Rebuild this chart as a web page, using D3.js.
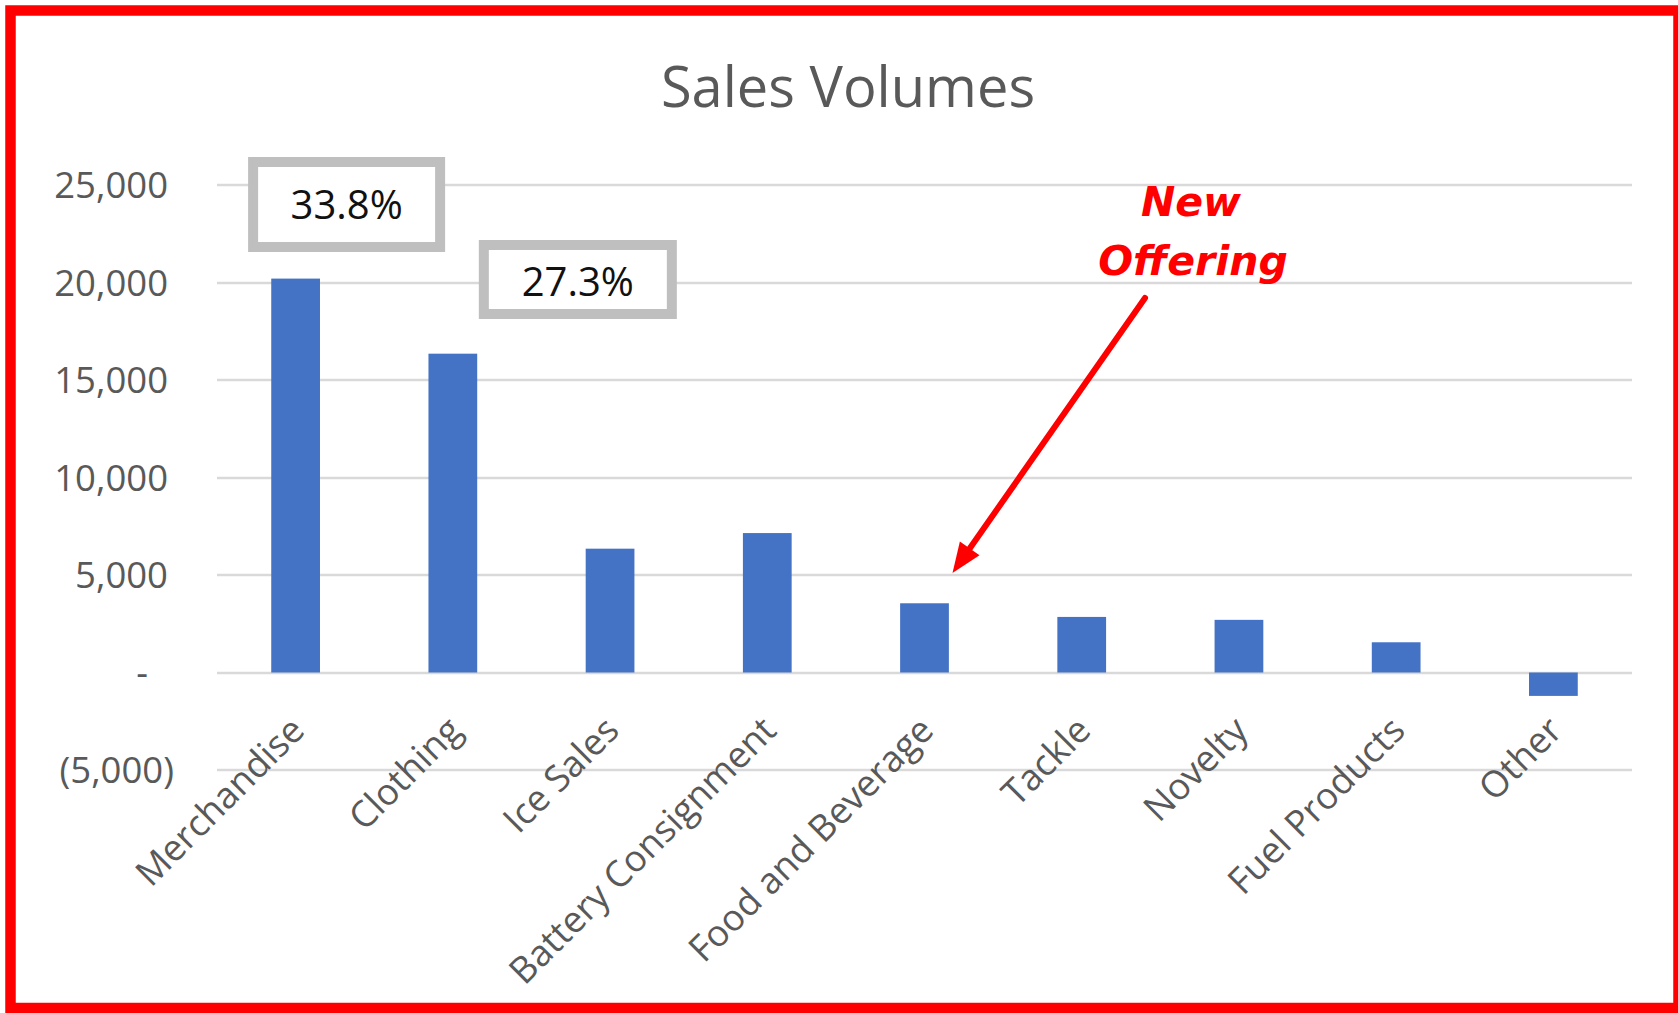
<!DOCTYPE html>
<html>
<head>
<meta charset="utf-8">
<script src="https://cdn.jsdelivr.net/npm/d3@7"></script>
<style>
  html, body { margin: 0; padding: 0; background: #fff; }
  svg { display: block; }
</style>
</head>
<body>
<div id="chart"></div>
<script>
// chart data
const categories = ["Merchandise", "Clothing", "Ice Sales", "Battery Consignment",
  "Food and Beverage", "Tackle", "Novelty", "Fuel Products", "Other"];
const salesValues = [20200, 16350, 6350, 7150, 3550, 2850, 2700, 1550, -1200];
const yTicks = [-5000, 0, 5000, 10000, 15000, 20000, 25000];
const shareLabels = [
  { category: "Merchandise", text: "33.8%" },
  { category: "Clothing", text: "27.3%" }
];
const noteLines = ["New", "Offering"];
const noteTarget = "Food and Beverage";

const width = 1678;
const height = 1013;
const margin = { top: 185, right: 46, bottom: 243, left: 217 };

const svg = d3.select("#chart").append("svg")
  .attr("width", width)
  .attr("height", height)
  .style("font-family", "'Open Sans', 'Noto Sans', sans-serif");

const x = d3.scaleBand()
  .domain(categories)
  .range([margin.left, width - margin.right])
  .paddingInner(0.69)
  .paddingOuter(0.345);

const y = d3.scaleLinear()
  .domain([-5000, 25000])
  .range([height - margin.bottom, margin.top]);

// title
svg.append("text")
  .attr("x", 848)
  .attr("y", 107)
  .attr("text-anchor", "middle")
  .attr("fill", "#595959")
  .style("font-size", "56px")
  .text("Sales Volumes");

// gridlines
svg.append("g")
  .selectAll("line")
  .data(yTicks)
  .join("line")
  .attr("x1", margin.left)
  .attr("x2", width - margin.right)
  .attr("y1", d => Math.round(y(d)))
  .attr("y2", d => Math.round(y(d)))
  .attr("stroke", "#d9d9d9")
  .attr("stroke-width", 2.5);

// y tick labels, accounting style
const fmt = d3.format(",");
svg.append("g")
  .selectAll("text")
  .data(yTicks)
  .join("text")
  .attr("x", d => d < 0 ? 174 : (d === 0 ? 148 : 168))
  .attr("y", d => y(d))
  .attr("dy", "0.36em")
  .attr("text-anchor", "end")
  .attr("fill", "#595959")
  .style("font-size", "36.5px")
  .text(d => d < 0 ? `(${fmt(-d)})` : (d === 0 ? "-" : fmt(d)));

// bars
svg.append("g")
  .selectAll("rect")
  .data(categories)
  .join("rect")
  .attr("x", d => x(d))
  .attr("width", x.bandwidth())
  .attr("y", (d, i) => y(Math.max(0, salesValues[i])))
  .attr("height", (d, i) => Math.abs(y(salesValues[i]) - y(0)))
  .attr("fill", "#4472c4");

// rotated category labels
svg.append("g")
  .selectAll("text")
  .data(categories)
  .join("text")
  .attr("text-anchor", "end")
  .attr("fill", "#595959")
  .style("font-size", "36.5px")
  .attr("transform", d => `translate(${x(d) + x.bandwidth() / 2 + 11},${y(0) + 60}) rotate(-45)`)
  .text(d => d);

// percentage callouts
const boxOffsets = [
  { dx: 51, top: 162, h: 85, w: 187 },
  { dx: 125, top: 245, h: 69, w: 188 }
];
const callout = svg.append("g")
  .selectAll("g")
  .data(shareLabels)
  .join("g")
  .attr("transform", (d, i) => {
    const cx = x(d.category) + x.bandwidth() / 2 + boxOffsets[i].dx;
    return `translate(${cx},${boxOffsets[i].top})`;
  });

callout.append("rect")
  .attr("x", (d, i) => -boxOffsets[i].w / 2)
  .attr("y", 0)
  .attr("width", (d, i) => boxOffsets[i].w)
  .attr("height", (d, i) => boxOffsets[i].h)
  .attr("fill", "#fff")
  .attr("stroke", "#bfbfbf")
  .attr("stroke-width", 10);

callout.append("text")
  .attr("x", 0)
  .attr("y", (d, i) => boxOffsets[i].h / 2 - (i === 0 ? 0 : -2))
  .attr("dy", "0.36em")
  .attr("text-anchor", "middle")
  .attr("fill", "#111")
  .style("font-size", "40px")
  .text(d => d.text);

// "New Offering" note and arrow
const note = svg.append("g")
  .attr("fill", "#ff0000")
  .style("font-family", "'DejaVu Sans', sans-serif")
  .style("font-weight", "bold")
  .style("font-style", "oblique")
  .style("font-size", "41px")
  .attr("text-anchor", "middle");

note.selectAll("text")
  .data(noteLines)
  .join("text")
  .attr("x", (d, i) => 1191 + i * 2)
  .attr("y", (d, i) => 216 + i * 59)
  .text(d => d);

const tipX = x(noteTarget) + x.bandwidth() / 2 + 28;
const tipY = y(5100);
const startX = 1145, startY = 298;
const ang = Math.atan2(tipY - startY, tipX - startX);
const headLen = 30, headHalf = 12;
const baseX = tipX - headLen * Math.cos(ang);
const baseY = tipY - headLen * Math.sin(ang);

svg.append("line")
  .attr("x1", startX)
  .attr("y1", startY)
  .attr("x2", baseX)
  .attr("y2", baseY)
  .attr("stroke", "#ff0000")
  .attr("stroke-width", 6)
  .attr("stroke-linecap", "round");

svg.append("path")
  .attr("d", d3.line()([
    [tipX, tipY],
    [baseX + headHalf * Math.sin(ang), baseY - headHalf * Math.cos(ang)],
    [baseX - headHalf * Math.sin(ang), baseY + headHalf * Math.cos(ang)]
  ]) + "Z")
  .attr("fill", "#ff0000");

// red frame
svg.append("rect")
  .attr("x", 10.5)
  .attr("y", 10.5)
  .attr("width", 1668)
  .attr("height", 997.5)
  .attr("fill", "none")
  .attr("stroke", "#ff0000")
  .attr("stroke-width", 10.5);
</script>
</body>
</html>
